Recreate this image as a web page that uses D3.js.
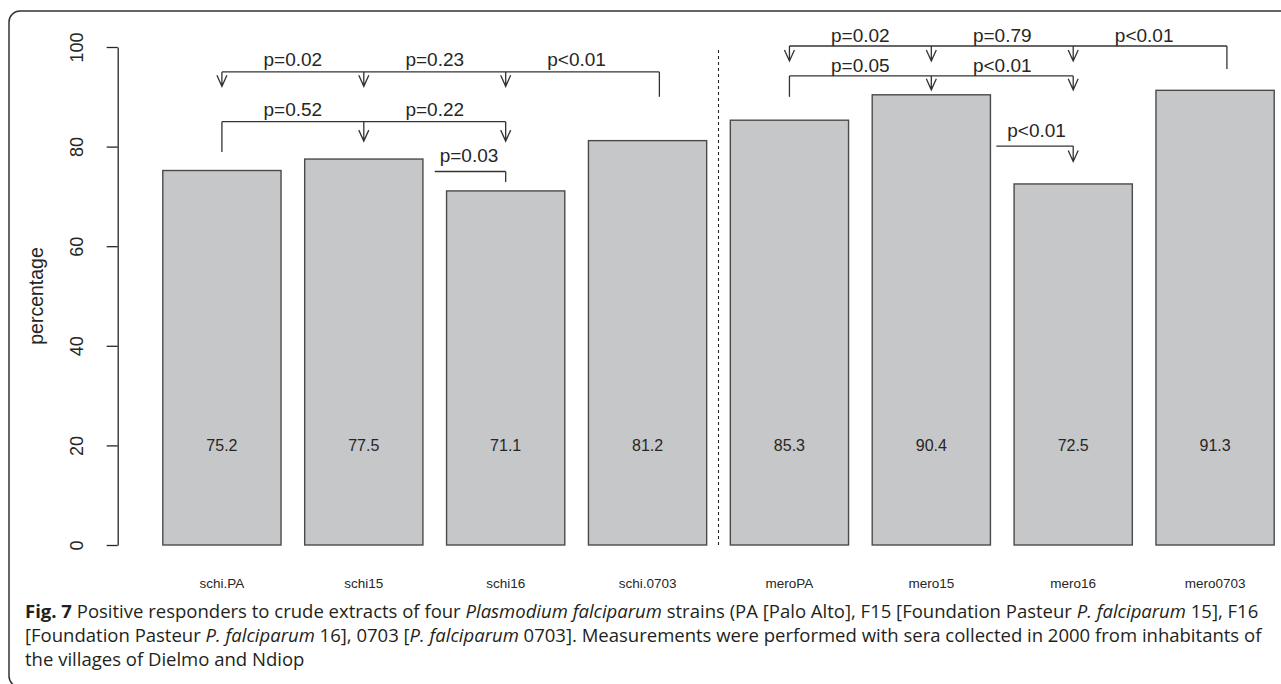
<!DOCTYPE html>
<html>
<head>
<meta charset="utf-8">
<script src="https://cdn.jsdelivr.net/npm/d3@7"></script>
<style>
  html, body { margin: 0; padding: 0; background: #fff; }
  svg { display: block; }
</style>
</head>
<body>
<script>
// ---- data ----
const categories = ["schi.PA", "schi15", "schi16", "schi.0703", "meroPA", "mero15", "mero16", "mero0703"];
const values = [75.2, 77.5, 71.1, 81.2, 85.3, 90.4, 72.5, 91.3];
const yTicks = [0, 20, 40, 60, 80, 100];

// comparison brackets (x in bar-position units, y in percentage units)
const bracketLevel = [95, 85, 75, 100.2, 94.2, 80.1];
const bracketFrom  = [0.7, 0.7, 2.5, 5.5, 5.5, 7.25];
const bracketTo    = [4.4, 3.1, 3.1, 9.2, 7.9, 7.9];
const arrowAt      = [[0.7, 1.9, 3.1], [1.9, 3.1], [], [5.5, 6.7, 7.9], [6.7, 7.9], [7.9]];
const arrowTip     = [92.1, 81.1, null, 97.2, 91.4, 77.0];
const dropX        = [4.4, 0.7, 3.1, 9.2, 5.5, null];
const dropTo       = [90.0, 78.9, 72.9, 95.6, 90.0, null];

const pLabels = ["p=0.02", "p=0.23", "p<0.01", "p=0.52", "p=0.22", "p=0.03",
                 "p=0.02", "p=0.79", "p<0.01", "p=0.05", "p<0.01", "p<0.01"];
const pLabelX = [1.3, 2.5, 3.7, 1.3, 2.5, 2.79, 6.1, 7.3, 8.5, 6.1, 7.3, 7.59];
const pLabelY = [96.2, 96.2, 96.2, 86.1, 86.1, 77.0, 101.0, 101.0, 101.0, 95.0, 95.0, 82.0];

const separatorX = 4.9;

// ---- layout ----
const W = 1281, H = 684;
const svg = d3.select("body").append("svg").attr("width", W).attr("height", H);

// panel border (rounded, partly clipped)
svg.append("rect")
  .attr("x", 9).attr("y", 11).attr("width", 1300).attr("height", 676)
  .attr("rx", 11).attr("ry", 11)
  .attr("fill", "none").attr("stroke", "#333").attr("stroke-width", 1.5);

const x = d3.scaleLinear().domain([0.2, 9.6]).range([162.8, 1274.2]);
const y = d3.scaleLinear().domain([0, 100]).range([545, 47]);
const barPos = categories.map((_, i) => 0.7 + 1.2 * i);

const ink = "#262626";
const chartFont = "'Liberation Sans', Arial, Helvetica, sans-serif";

// bars
svg.append("g").selectAll("rect").data(values).join("rect")
  .attr("x", (d, i) => x(barPos[i] - 0.5))
  .attr("width", (d, i) => x(barPos[i] + 0.5) - x(barPos[i] - 0.5))
  .attr("y", d => y(d))
  .attr("height", d => y(0) - y(d))
  .attr("fill", "#c6c7c9")
  .attr("stroke", "#4a4a4a")
  .attr("stroke-width", 1.4);

// value labels inside bars (at y = 20)
svg.append("g").selectAll("text").data(values).join("text")
  .attr("x", (d, i) => x(barPos[i]))
  .attr("y", y(20))
  .attr("dy", "0.36em")
  .attr("text-anchor", "middle")
  .attr("font-family", chartFont)
  .attr("font-size", 16)
  .attr("fill", ink)
  .text(d => d.toFixed(1));

// category labels
svg.append("g").selectAll("text").data(categories).join("text")
  .attr("x", (d, i) => x(barPos[i]))
  .attr("y", 588)
  .attr("text-anchor", "middle")
  .attr("font-family", chartFont)
  .attr("font-size", 13.5)
  .attr("fill", ink)
  .text(d => d);

// y axis
const yAxis = d3.axisLeft(y).tickValues(yTicks).tickSize(11).tickSizeOuter(0).tickFormat(d3.format("d"));
const gy = svg.append("g").attr("transform", `translate(${117.7},0)`).call(yAxis);
gy.select(".domain").attr("stroke", ink).attr("stroke-width", 1.3);
gy.selectAll(".tick line").attr("stroke", ink).attr("stroke-width", 1.3);
gy.selectAll(".tick text")
  .attr("x", null).attr("dy", null)
  .attr("transform", "translate(-34.4,0) rotate(-90)")
  .attr("text-anchor", "middle")
  .attr("font-family", chartFont)
  .attr("font-size", 18)
  .attr("fill", ink);

// y axis title
svg.append("text")
  .attr("transform", `translate(43,${(y(0) + y(100)) / 2}) rotate(-90)`)
  .attr("text-anchor", "middle")
  .attr("font-family", chartFont)
  .attr("font-size", 19.5)
  .attr("fill", ink)
  .text("percentage");

// dashed separator
svg.append("line")
  .attr("x1", x(separatorX)).attr("x2", x(separatorX))
  .attr("y1", y(0)).attr("y2", y(100))
  .attr("stroke", ink).attr("stroke-width", 1.1)
  .attr("stroke-dasharray", "3,3");

// brackets
const gb = svg.append("g").attr("fill", "none").attr("stroke", "#333").attr("stroke-width", 1.3);
bracketLevel.forEach((lvl, i) => {
  gb.append("line")
    .attr("x1", x(bracketFrom[i])).attr("x2", x(bracketTo[i]))
    .attr("y1", y(lvl)).attr("y2", y(lvl));
  if (dropX[i] !== null) {
    gb.append("line")
      .attr("x1", x(dropX[i])).attr("x2", x(dropX[i]))
      .attr("y1", y(lvl)).attr("y2", y(dropTo[i]));
  }
  arrowAt[i].forEach(ax => {
    const px = x(ax), ty = y(arrowTip[i]);
    gb.append("path")
      .attr("d", `M${px},${y(lvl)}L${px},${ty}M${px - 5},${ty - 11}L${px},${ty}L${px + 5},${ty - 11}`);
  });
});

// p-value labels
svg.append("g").selectAll("text").data(pLabels).join("text")
  .attr("x", (d, i) => x(pLabelX[i]))
  .attr("y", (d, i) => y(pLabelY[i]))
  .attr("text-anchor", "middle")
  .attr("font-family", chartFont)
  .attr("font-size", 19)
  .attr("fill", ink)
  .text(d => d);

// caption
const capFont = "'Open Sans', 'Noto Sans', sans-serif";
const capLines = [
  [["Fig. 7", "b"], [" Positive responders to crude extracts of four ", ""], ["Plasmodium falciparum", "i"],
   [" strains (PA [Palo Alto], F15 [Foundation Pasteur ", ""], ["P. falciparum", "i"], [" 15], F16", ""]],
  [["[Foundation Pasteur ", ""], ["P. falciparum", "i"], [" 16], 0703 [", ""], ["P. falciparum", "i"],
   [" 0703]. Measurements were performed with sera collected in 2000 from inhabitants of", ""]],
  [["the villages of Dielmo and Ndiop", ""]]
];
const capBase = [618, 642, 666];
const capTexts = capLines.map((parts, li) => {
  const t = svg.append("text")
    .attr("font-family", capFont)
    .attr("font-size", 18.5)
    .attr("fill", "#231f20")
    .attr("transform", `translate(25,${capBase[li]})`);
  parts.forEach(([s, st]) => {
    t.append("tspan")
      .attr("font-weight", st === "b" ? 700 : 400)
      .attr("font-style", st === "i" ? "italic" : "normal")
      .text(s);
  });
  return t;
});
const w1 = capTexts[0].node().getComputedTextLength();
const sx = 1234 / w1;
capTexts.forEach((t, li) => t.attr("transform", `translate(25,${capBase[li]}) scale(${sx},1)`));
</script>
</body>
</html>
